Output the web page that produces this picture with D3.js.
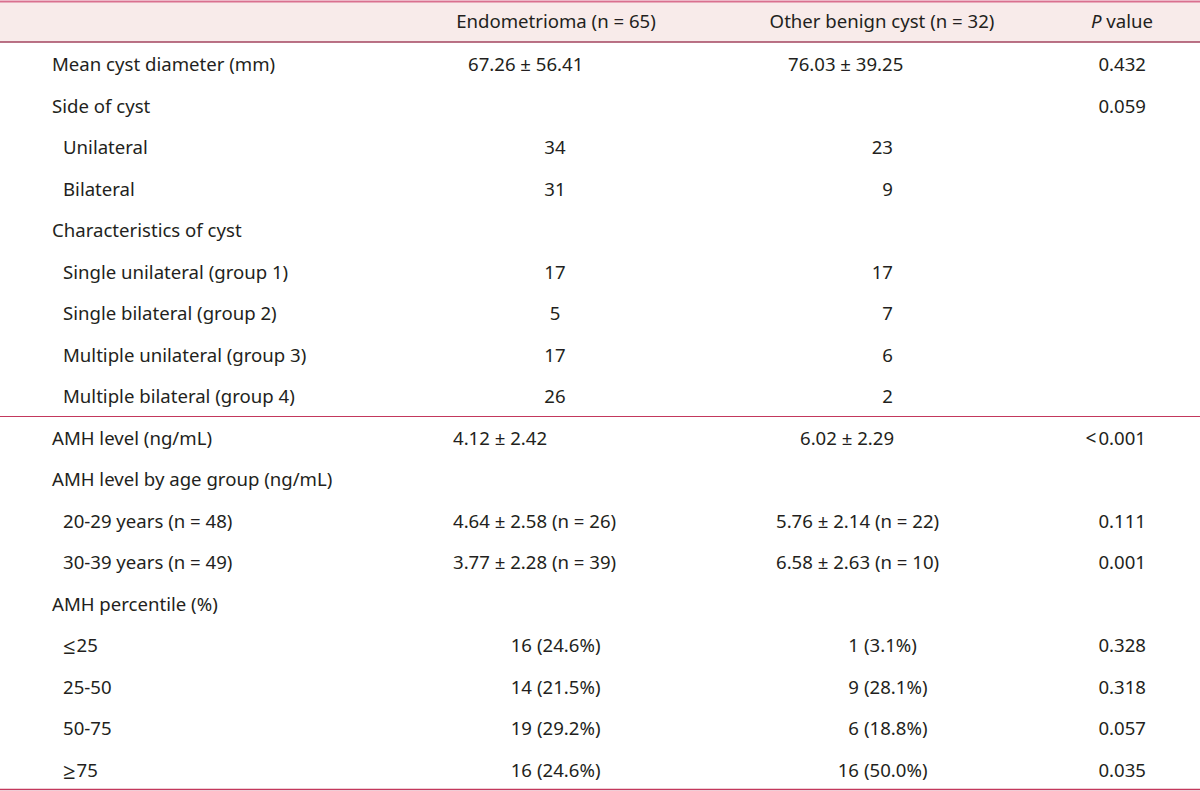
<!DOCTYPE html>
<html lang="en">
<head>
<meta charset="UTF-8">
<title>Cyst characteristics and AMH</title>
<script src="https://d3js.org/d3.v7.min.js"></script>
<style>
  body { margin: 0; background: #fff; }
  text { font-family: "Noto Sans", "Open Sans", sans-serif; font-size: 18.6px; fill: #231f20; }
</style>
</head>
<body>
<div id="chart"></div>
<script>
// table content
const headers = ["", "Endometrioma (n = 65)", "Other benign cyst (n = 32)", "P value"];
const rowLabels = [
  "Mean cyst diameter (mm)", "Side of cyst", "Unilateral", "Bilateral",
  "Characteristics of cyst", "Single unilateral (group 1)", "Single bilateral (group 2)",
  "Multiple unilateral (group 3)", "Multiple bilateral (group 4)",
  "AMH level (ng/mL)", "AMH level by age group (ng/mL)", "20-29 years (n = 48)",
  "30-39 years (n = 49)", "AMH percentile (%)", "\u2264 25", "25-50", "50-75", "\u2265 75"
];
const rowLevel = [0, 0, 1, 1, 0, 1, 1, 1, 1, 0, 0, 1, 1, 0, 1, 1, 1, 1];
const rowKind = ["mean", "head", "count", "count", "head", "count", "count", "count", "count",
  "amh", "head", "age", "age", "head", "pct", "pct", "pct", "pct"];
const endoValues = [
  "67.26 \u00b1 56.41", "", "34", "31", "", "17", "5", "17", "26",
  "4.12 \u00b1 2.42", "", "4.64 \u00b1 2.58 (n = 26)", "3.77 \u00b1 2.28 (n = 39)", "",
  "16 (24.6%)", "14 (21.5%)", "19 (29.2%)", "16 (24.6%)"
];
const otherValues = [
  "76.03 \u00b1 39.25", "", "23", "9", "", "17", "7", "6", "2",
  "6.02 \u00b1 2.29", "", "5.76 \u00b1 2.14 (n = 22)", "6.58 \u00b1 2.63 (n = 10)", "",
  "1 (3.1%)", "9 (28.1%)", "6 (18.8%)", "16 (50.0%)"
];
const pValues = [
  "0.432", "0.059", "", "", "", "", "", "", "",
  "< 0.001", "", "0.111", "0.001", "",
  "0.328", "0.318", "0.057", "0.035"
];
const groupBreak = 9; // rule drawn above this row

const width = 1200, height = 791;
const headTop = 2, headBottom = 42;

const svg = d3.select("#chart").append("svg")
  .attr("width", width)
  .attr("height", height);

// rows
const y = d3.scaleBand()
  .domain(d3.range(rowLabels.length))
  .range([43, 790]);

const textDy = 28;

// column anchors per row kind: [x, anchor]
const endoPos = { mean: [468, "start"], count: [555, "middle"], amh: [453, "start"], age: [453, "start"], pct: [532, "split"] };
const otherPos = { mean: [788, "start"], count: [893, "end"], amh: [800, "start"], age: [776, "start"], pct: [859, "split"] };

// header band
svg.append("rect")
  .attr("x", 0).attr("y", headTop)
  .attr("width", width).attr("height", headBottom - headTop)
  .attr("fill", "#f8ebea");

svg.append("line")
  .attr("x1", 0).attr("x2", width).attr("y1", 1.5).attr("y2", 1.5)
  .attr("stroke", "#d9708f").attr("stroke-width", 2);
svg.append("line")
  .attr("x1", 0).attr("x2", width).attr("y1", headBottom).attr("y2", headBottom)
  .attr("stroke", "#a3455f").attr("stroke-width", 1.5);

svg.append("text").attr("x", 556).attr("y", textDy).attr("text-anchor", "middle").text(headers[1]);
svg.append("text").attr("x", 882).attr("y", textDy).attr("text-anchor", "middle").text(headers[2]);
const ph = svg.append("text").attr("x", 1153).attr("y", textDy).attr("text-anchor", "end");
ph.append("tspan").attr("font-style", "italic").text("P");
ph.append("tspan").text(" value");

// separators
svg.append("line")
  .attr("x1", 0).attr("x2", width)
  .attr("y1", y(groupBreak)).attr("y2", y(groupBreak))
  .attr("stroke", "#c3385d").attr("stroke-width", 1.2);
svg.append("line")
  .attr("x1", 0).attr("x2", width).attr("y1", 789.5).attr("y2", 789.5)
  .attr("stroke", "#c3385d").attr("stroke-width", 1.5);

const rows = svg.selectAll("g.row")
  .data(rowLabels.map((label, i) => ({
    label, i, level: rowLevel[i], kind: rowKind[i],
    endo: endoValues[i], other: otherValues[i], p: pValues[i]
  })))
  .join("g")
  .attr("class", "row")
  .attr("transform", d => `translate(0,${y(d.i) + textDy})`);

// label column; comparison signs sit a bit low
rows.each(function(d) {
  const t = d3.select(this).append("text").attr("x", d.level ? 63 : 52);
  const m = d.label.match(/^([\u2264\u2265]) (.*)$/);
  if (m) {
    t.append("tspan").attr("font-size", "22px").attr("dy", 2).text(m[1]);
    t.append("tspan").attr("dx", 1).attr("dy", -2).text(m[2]);
  } else {
    t.text(d.label);
  }
});

function drawCell(g, value, pos) {
  if (!value || !pos) return;
  const [x, anchor] = pos;
  if (anchor === "split") {
    const parts = value.split(" ");
    g.append("text").attr("x", x).attr("text-anchor", "end").text(parts[0]);
    g.append("text").attr("x", x + 5).attr("text-anchor", "start").text(parts.slice(1).join(" "));
  } else {
    g.append("text").attr("x", x).attr("text-anchor", anchor).text(value);
  }
}

rows.each(function(d) {
  const g = d3.select(this);
  drawCell(g, d.endo, endoPos[d.kind]);
  drawCell(g, d.other, otherPos[d.kind]);
  if (d.p) {
    const t = g.append("text").attr("x", 1146).attr("text-anchor", "end");
    if (d.p.startsWith("<")) {
      t.append("tspan").attr("font-size", "19px").text("<");
      t.append("tspan").attr("dx", 2).text(d.p.slice(2));
    } else {
      t.text(d.p);
    }
  }
});
</script>
</body>
</html>
